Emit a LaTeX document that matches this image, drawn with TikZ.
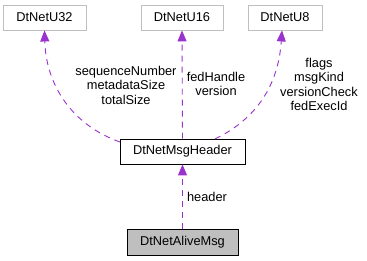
\documentclass[tikz,border=0pt]{standalone}
\usepackage{fontspec}
\setmainfont{Liberation Sans}
\usetikzlibrary{arrows.meta}
\definecolor{edgepurple}{HTML}{9A32CD}
\definecolor{boxgray}{HTML}{BFBFBF}
\tikzset{
  box/.style={draw, line width=0.9pt, inner sep=0pt, minimum height=25pt, font=\fontsize{12.8}{14.5}\selectfont},
  graybox/.style={box, draw=boxgray},
  edge/.style={draw=edgepurple, line width=0.9pt, dash pattern=on 6pt off 5pt, -{Triangle[length=11pt,width=9pt,fill=edgepurple]}},
  lbl/.style={align=center, inner sep=0pt, font=\fontsize{12.8}{14.5}\selectfont}
}
\begin{document}
\begin{tikzpicture}[x=1pt,y=1pt]
\useasboundingbox (0,0) rectangle (367,-261);
\node[graybox, minimum width=83pt] (u32) at (44.5,-17.5) {DtNetU32};
\node[graybox, minimum width=82pt] (u16) at (182,-17.5) {DtNetU16};
\node[graybox, minimum width=74pt] (u8) at (285,-17.5) {DtNetU8};
\node[box, draw=black, fill=white, minimum width=125pt] (hdr) at (182.5,-151.5) {DtNetMsgHeader};
\node[box, draw=black, fill=boxgray, minimum width=111pt, minimum height=26pt] (alive) at (182.5,-242) {DtNetAliveMsg};

\draw[edge] (alive.north) -- (hdr.south);
\draw[edge] (hdr.north) -- (u16.south);
\coordinate (h1) at (120,-142);
\coordinate (h2) at (215,-139);
\draw[edge] (h1) .. controls (72,-125) and (46,-85) .. (u32.south);
\draw[edge] (h2) .. controls (252,-121) and (278,-90) .. ([xshift=-3pt]u8.south);

\node[lbl] (l32) at (126,-85) {sequenceNumber\\metadataSize\\totalSize};
\node[lbl] (l16) at (216,-84) {fedHandle\\version};
\node[lbl] (l8) at (319,-84.5) {flags\\msgKind\\versionCheck\\fedExecId};
\node[lbl] (lh) at (207,-197) {header};
\end{tikzpicture}
\end{document}
